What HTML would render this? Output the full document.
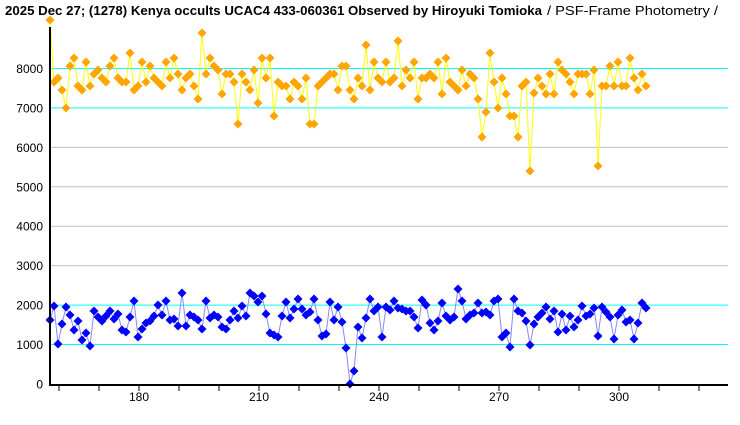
<!DOCTYPE html>
<html><head><meta charset="utf-8"><style>
html,body{margin:0;padding:0;background:#fff;}
svg{display:block;font-family:"Liberation Sans","Noto Sans CJK JP",sans-serif;}
</style></head><body>
<svg id="s" width="740" height="425" viewBox="0 0 740 425" xmlns="http://www.w3.org/2000/svg">
<rect width="740" height="425" fill="#fff"/>
<g id="grid"></g>
<text x="5" y="15" font-size="13" font-weight="bold" textLength="537" lengthAdjust="spacingAndGlyphs">2025 Dec 27; (1278) Kenya occults UCAC4 433-060361 Observed by Hiroyuki Tomioka</text>
<text x="547" y="15" font-size="13" textLength="171" lengthAdjust="spacingAndGlyphs">/ PSF-Frame Photometry /</text>
<g id="data"></g>
<line x1="50" y1="27" x2="50" y2="385" stroke="#000" stroke-width="2"/>
<line x1="49" y1="385" x2="728" y2="385" stroke="#000" stroke-width="2"/>
<g id="ticks"></g>
</svg>
<script>
var NS="http://www.w3.org/2000/svg";
function el(p,t,a,txt){var e=document.createElementNS(NS,t);for(var k in a)e.setAttribute(k,a[k]);if(txt!=null)e.textContent=txt;p.appendChild(e);return e;}
var grid=document.getElementById('grid'),ticks=document.getElementById('ticks'),data=document.getElementById('data');
for(var v=0;v<=8000;v+=1000){
  var y=384-v*0.03944;
  if(v>0){var c=(v<=2000||v>=7000)?'#00ffff':'#c0c0c0';
  el(grid,'line',{x1:50,y1:y,x2:728,y2:y,stroke:c,'stroke-width':1});}
  el(grid,'text',{x:43,y:y+4.5,'font-size':12,'text-anchor':'end'},String(v));
}
for(var t=160;t<=320;t+=10){
  var x=139+(t-180)*4;
  el(ticks,'line',{x1:x,y1:385,x2:x,y2:391,stroke:'#000','stroke-width':1});
  if(t%30==0)el(ticks,'text',{x:x,y:401,'font-size':12,'text-anchor':'middle'},String(t));
}
var up=[20,82,78,90,108,66,58,86,90,62,86,74,70,78,82,66,58,78,82,82,53,90,86,62,82,66,78,82,86,62,78,58,74,90,78,74,86,99,33,74,58,66,70,94,74,74,82,124,74,82,90,70,103,58,78,58,116,82,86,86,99,82,86,99,78,124,124,86,82,78,74,74,90,66,66,90,99,
78,86,45,90,62,78,82,62,82,78,41,86,70,78,62,99,78,78,74,78,62,94,58,82,86,90,70,86,74,78,99,137,112,53,82,108,78,94,116,116,137,86,82,171,93,78,86,94,74,94,62,70,74,82,94,74,74,74,94,70,166,86,86,66,86,62,86,86,58,78,90,74,86];
var lo=[320,306,344,324,307,315,330,321,340,333,346,311,317,321,316,311,319,314,330,332,317,301,337,329,323,321,316,305,315,301,320,319,326,293,
326,315,317,320,329,301,318,315,317,327,329,320,311,318,306,316,293,296,302,296,314,333,335,337,
316,302,318,309,299,309,315,312,299,320,336,334,302,320,307,322,348,384,371,327,
338,318,299,311,307,337,307,310,301,308,309,311,311,317,328,300,305,323,330,321,303,316,320,317,289,301,319,315,313,303,313,312,315,301,299,337,333,347,299,311,313,321,345,324,317,313,307,319,311,332,314,330,316,327,320,306,316,314,308,336,307,312,317,339,315,310,322,320,339,323,303,308];
function series(arr,lc,mc){
  var pts=arr.map(function(y,i){return (50+4*i)+','+y;}).join(' ');
  el(data,'polyline',{points:pts,fill:'none',stroke:lc,'stroke-width':1});
  arr.forEach(function(y,i){var x=50+4*i;
    el(data,'polygon',{points:(x)+','+(y-4.5)+' '+(x+4.5)+','+y+' '+x+','+(y+4.5)+' '+(x-4.5)+','+y,fill:mc});});
}
series(up,'#ffff00','#ffa500');
series(lo,'#8888ff','#0000ff');
</script>
</body></html>
